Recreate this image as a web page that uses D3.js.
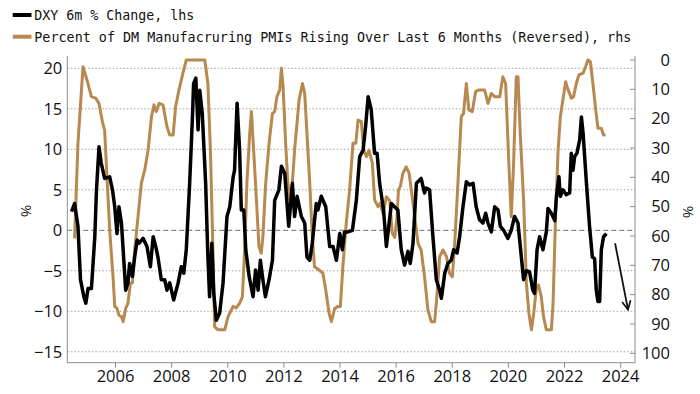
<!DOCTYPE html>
<html>
<head>
<meta charset="utf-8">
<script src="https://cdn.jsdelivr.net/npm/d3@7"></script>
<style>
  body { margin: 0; background: #fff; }
  svg { display: block; }
</style>
</head>
<body>
<div id="chart"></div>
<script>

// DXY 6m % change (lhs), decimal year / value
var dxyDates = [2004.45,2004.56,2004.68,2004.77,2004.89,2004.96,2005.04,2005.16,2005.28,2005.34,2005.43,2005.51,2005.63,2005.81,2005.91,2005.99,
  2006.07,2006.14,2006.23,2006.29,2006.38,2006.46,2006.52,2006.62,2006.70,2006.79,2006.86,2007.00,2007.14,2007.26,2007.36,2007.45,2007.53,2007.65,2007.77,2007.85,2007.95,
  2008.09,2008.25,2008.36,2008.45,2008.54,2008.66,2008.76,2008.80,2008.88,2008.96,2009.02,2009.11,2009.23,2009.31,2009.37,2009.45,2009.52,2009.61,2009.73,2009.85,2009.99,
  2010.09,2010.21,2010.26,2010.35,2010.44,2010.50,2010.59,2010.66,2010.78,2010.92,2011.01,2011.10,2011.18,2011.27,2011.36,2011.49,2011.61,2011.69,2011.84,2011.93,
  2012.05,2012.11,2012.19,2012.32,2012.40,2012.49,2012.64,2012.76,2012.84,2012.94,2013.03,2013.17,2013.23,2013.35,2013.51,2013.65,2013.77,2013.89,
  2014.01,2014.10,2014.18,2014.30,2014.46,2014.60,2014.72,2014.84,2014.93,2015.02,2015.13,2015.25,2015.34,2015.43,2015.57,2015.67,2015.85,2015.96,
  2016.08,2016.20,2016.32,2016.44,2016.52,2016.62,2016.74,2016.91,2017.03,2017.09,2017.21,2017.33,2017.45,2017.57,2017.63,2017.75,2017.86,2017.98,
  2018.07,2018.19,2018.28,2018.40,2018.52,2018.64,2018.76,2018.87,2018.99,2019.11,2019.21,2019.29,2019.41,2019.53,2019.65,2019.73,2019.85,
  2020.00,2020.12,2020.24,2020.36,2020.48,2020.56,2020.66,2020.77,2020.89,2020.95,2021.04,2021.13,2021.25,2021.37,2021.43,2021.55,2021.67,2021.73,2021.82,2021.87,2021.96,
  2022.08,2022.20,2022.26,2022.32,2022.38,2022.46,2022.56,2022.62,2022.68,2022.80,2022.91,2023.01,2023.09,2023.15,2023.21,2023.27,2023.33,2023.41,2023.51];
var dxyValues = [2.3,3.3,0.5,-6.1,-8.2,-9,-7.2,-7.2,-0.8,5,10.3,8.3,6.4,6.6,5,2.9,
  -0.4,2.9,0.9,-2.4,-7.4,-6.5,-4.1,-5.7,-3.3,-1.2,-1.6,-1,-2,-4.5,-0.8,-2,-3.3,-6.1,-6.1,-7.4,-6.5,
  -8.6,-6.5,-4.5,-5.3,-2.4,5.8,14,18.1,18.8,12.4,17.3,14.4,5.8,-3.3,-8.2,-1.6,-7.8,-11.1,-10.2,-6.5,1.7,
  2.9,6.6,7.4,15.7,9.9,2.5,2.5,-2.4,-5.7,-8.2,-4.9,-7.4,-3.7,-6.1,-8.2,-6.1,-3.7,3.7,5,7.9,
  7,4.2,0.5,5.8,1.7,4.2,1.7,0.9,-3.3,-3.7,-1.6,3.3,2.5,4.2,2.9,-2,-2,-3.7,
  -0.4,-2.4,-0.2,-0.2,0,3.7,9.1,9.9,12.8,16.5,14.9,9.5,9.5,5.8,2.5,-2,3.3,2.9,
  2.5,-2.4,-4.3,-2.6,-4.1,-1.6,5.8,6.4,4.6,5.2,5,-0.8,-6.1,-7.4,-8.4,-5.3,-4.1,-3.7,
  -2.4,-2.8,-0.8,2.9,6,5.6,5.8,2.9,1.3,0.9,2.1,0.9,-0.2,2.9,2.5,0.5,0,
  -1,0,1.7,0.9,-3.3,-6.1,-5,-5.1,-7.4,-7.8,-2.4,-0.8,-2.4,-0.2,2.7,2.1,1.2,4.2,6.6,4.2,5,
  4.4,4.6,9.5,7.4,9.1,9.5,11.2,14,12,5.8,0.5,-3.3,-3.5,-7.4,-8.8,-8.8,-2.4,-0.8,-0.4];

// % of DM manufacturing PMIs rising over last 6 months (rhs, reversed)
var pmiDates = [2004.56,2004.68,2004.86,2005.00,2005.16,2005.31,2005.43,2005.55,2005.63,2005.72,2005.81,2005.93,2005.99,
  2006.07,2006.14,2006.23,2006.29,2006.38,2006.46,2006.55,2006.62,2006.70,2006.82,2006.94,2007.06,2007.18,2007.30,2007.39,2007.47,2007.57,2007.71,2007.85,2007.95,
  2008.07,2008.16,2008.28,2008.42,2008.54,2009.20,2009.31,2009.40,2009.49,2009.55,2009.67,2009.91,
  2010.03,2010.21,2010.32,2010.44,2010.54,2010.62,2010.70,2010.80,2010.86,2010.94,2011.04,2011.13,2011.21,2011.27,2011.37,2011.49,2011.61,2011.69,2011.77,2011.87,2011.93,2011.99,
  2012.08,2012.16,2012.25,2012.32,2012.40,2012.56,2012.68,2012.76,2012.84,2012.94,2013.03,2013.11,2013.27,2013.41,2013.51,2013.63,2013.71,2013.83,2013.95,
  2014.03,2014.12,2014.24,2014.36,2014.48,2014.58,2014.66,2014.78,2014.86,2014.96,2015.05,2015.17,2015.25,2015.37,2015.45,2015.55,2015.67,2015.79,2015.88,2015.97,
  2016.05,2016.10,2016.17,2016.26,2016.38,2016.48,2016.56,2016.68,2016.80,2016.91,2017.03,2017.15,2017.27,2017.39,2017.47,2017.57,2017.69,2017.81,2017.92,
  2018.02,2018.10,2018.22,2018.34,2018.42,2018.52,2018.61,2018.73,2018.85,2018.97,2019.17,2019.29,2019.41,2019.53,2019.71,2019.82,2019.92,
  2020.04,2020.12,2020.20,2020.30,2020.36,2020.44,2020.56,2020.66,2020.75,2020.84,2020.92,2021.01,2021.09,2021.19,2021.27,2021.37,2021.55,2021.61,2021.70,2021.79,2021.87,2021.96,
  2022.06,2022.14,2022.26,2022.34,2022.44,2022.53,2022.68,2022.77,2022.85,2022.94,2023.03,2023.13,2023.21,2023.33,2023.41,2023.48];
var pmiValues = [60.8,28.4,2.3,6.8,12.5,13,14.8,21,23.9,40.9,58,73.9,84,
  84.7,87,87.5,89.2,84.7,83,76,76,64.8,53.4,42,37.5,30.7,19.3,15.3,17.6,14.8,15.3,22.7,25.6,
  25.6,15.9,10.2,4.5,0,0,8,30.7,64.8,90.9,92,92,
  87.5,84,84.5,83,80.7,64.8,42,25,17.6,30.7,47.7,63.6,65.9,60.2,42,28.4,18.2,17.6,12.5,10.2,2.8,9.1,
  28.4,42,48.9,42,30.7,13.6,8,11.4,25,42,60.2,70.5,71.6,72.7,78.4,86.4,89.2,84.7,84,
  84,70.5,55.7,44.3,28.4,28.4,20.5,21,30.7,33,30.7,35.2,47.7,50,48.9,52.3,46.6,48,59,60.5,
  53.4,44.3,43,38.6,36.4,38.6,44.3,53.4,62.5,64.8,73.9,85.2,89.2,89.2,80.7,67,64.8,67,72.7,
  73.9,63.6,42,19.3,18.2,8,17,17.6,10.8,10.2,10.2,14.8,11.4,12.5,12.5,5.7,8,
  36.4,53.4,36.4,5.7,5.7,25,47.7,76,86.4,92,86.4,78.4,76.7,80.7,87.5,92,92,83,53.4,30.7,19.3,13.6,
  7.4,10,13,12.5,8,5.1,4.5,2.3,0,0.6,8,17,23.3,23.3,25.6,25.6];

var yearTicks = [2006,2008,2010,2012,2014,2016,2018,2020,2022,2024];
var leftTicks = [20,15,10,5,0,-5,-10,-15];
var rightTicks = [0,10,20,30,40,50,60,70,80,90,100];
var legendLabels = ["DXY 6m % Change, lhs",
  "Percent of DM Manufacruring PMIs Rising Over Last 6 Months (Reversed), rhs"];

var width = 700, height = 394;
var plot = { left: 67.3, right: 635, top: 56, bottom: 362.7 };
var gold = "#b8894f";
var axisFont = "'Open Sans', 'Liberation Sans', sans-serif";

var svg = d3.select("#chart").append("svg")
  .attr("width", width)
  .attr("height", height);

var x = d3.scaleLinear().domain([2004.30, 2024.53]).range([plot.left, plot.right]);
var yL = d3.scaleLinear().domain([-16.35, 21.52]).range([plot.bottom, plot.top]);
var yR = d3.scaleLinear().domain([-1.36, 103.2]).range([plot.top, plot.bottom]);

// gridlines off the left axis
svg.append("g")
  .selectAll("line")
  .data(leftTicks)
  .enter().append("line")
  .attr("x1", plot.left).attr("x2", plot.right)
  .attr("y1", function(d) { return yL(d); })
  .attr("y2", function(d) { return yL(d); })
  .attr("stroke", function(d) { return d === 0 ? "#8a8a8a" : "#a0a0a0"; })
  .attr("stroke-width", function(d) { return d === 0 ? 1.3 : 1; })
  .attr("stroke-dasharray", function(d) { return d === 0 ? "5,3" : "1.5,2"; });

// axes
var axisColor = "#8c8c8c";

var xAxis = svg.append("g")
  .attr("transform", "translate(0," + plot.bottom + ")")
  .call(d3.axisBottom(x).tickValues(yearTicks).tickFormat(d3.format("d")).tickSize(5).tickPadding(3));
xAxis.select(".domain").remove();

var lAxis = svg.append("g")
  .attr("transform", "translate(" + plot.left + ",0)")
  .call(d3.axisLeft(yL).tickValues(leftTicks).tickSize(0).tickPadding(5));
lAxis.select(".domain").remove();

var rAxis = svg.append("g")
  .attr("transform", "translate(" + plot.right + ",0)")
  .call(d3.axisRight(yR).tickValues(rightTicks).tickSize(0).tickPadding(35));
rAxis.select(".domain").remove();
rAxis.selectAll("text").attr("text-anchor", "end");

// right-axis tick marks sit inside the plot
svg.append("g")
  .selectAll("line")
  .data(rightTicks)
  .enter().append("line")
  .attr("x1", plot.right - 5).attr("x2", plot.right)
  .attr("y1", function(d) { return yR(d); })
  .attr("y2", function(d) { return yR(d); })
  .attr("stroke", axisColor);

[xAxis, lAxis, rAxis].forEach(function(g) {
  g.selectAll("text")
    .attr("font-family", axisFont)
    .attr("font-size", 16.5)
    .attr("fill", "#111");
  g.selectAll(".tick line").attr("stroke", axisColor);
});

// frame: left, bottom, right
svg.append("path")
  .attr("d", "M" + plot.left + "," + plot.top + "V" + plot.bottom + "H" + plot.right + "V" + plot.top)
  .attr("fill", "none")
  .attr("stroke", axisColor)
  .attr("stroke-width", 1);

// % unit labels
svg.append("text")
  .attr("transform", "translate(21,211) rotate(90)")
  .attr("text-anchor", "middle")
  .attr("font-family", axisFont).attr("font-size", 15)
  .attr("fill", "#1a1a1a")
  .text("%");
svg.append("text")
  .attr("transform", "translate(683,212) rotate(90)")
  .attr("text-anchor", "middle")
  .attr("font-family", axisFont).attr("font-size", 15)
  .attr("fill", "#1a1a1a")
  .text("%");

// lines
var pmiLine = d3.line()
  .x(function(d, i) { return x(pmiDates[i]); })
  .y(function(d) { return yR(d); });
var dxyLine = d3.line()
  .x(function(d, i) { return x(dxyDates[i]); })
  .y(function(d) { return yL(d); });

svg.append("path")
  .datum(pmiValues)
  .attr("d", pmiLine)
  .attr("fill", "none")
  .attr("stroke", gold)
  .attr("stroke-width", 3)
  .attr("stroke-linejoin", "round");

svg.append("path")
  .datum(dxyValues)
  .attr("d", dxyLine)
  .attr("fill", "none")
  .attr("stroke", "#000")
  .attr("stroke-width", 3.5)
  .attr("stroke-linejoin", "round");

// arrow annotation
svg.append("defs").append("marker")
  .attr("id", "head")
  .attr("viewBox", "0 0 10 10")
  .attr("refX", 9).attr("refY", 5)
  .attr("markerWidth", 6).attr("markerHeight", 6)
  .attr("orient", "auto")
  .append("path")
  .attr("d", "M1,1L9,5L1,9")
  .attr("fill", "none")
  .attr("stroke", "#111")
  .attr("stroke-width", 1.6);

svg.append("line")
  .attr("x1", x(2023.82)).attr("y1", yL(-1.6))
  .attr("x2", x(2024.28)).attr("y2", yL(-9.8))
  .attr("stroke", "#111")
  .attr("stroke-width", 1.8)
  .attr("marker-end", "url(#head)");

// legend
var legend = svg.append("g");
var legendColors = ["#000", gold];
var legendWidths = [160, 597];
legendLabels.forEach(function(label, i) {
  var ly = 15 + i * 21.7;
  legend.append("line")
    .attr("x1", 12.7).attr("x2", 31.5)
    .attr("y1", ly).attr("y2", ly)
    .attr("stroke", legendColors[i])
    .attr("stroke-width", 4);
  legend.append("text")
    .attr("x", 34.3).attr("y", ly)
    .attr("dy", "0.36em")
    .attr("font-family", "'DejaVu Sans Mono', 'Liberation Mono', monospace")
    .attr("font-size", 14)
    .attr("textLength", legendWidths[i])
    .attr("lengthAdjust", "spacingAndGlyphs")
    .attr("fill", "#111")
    .text(label);
});

</script>
</body>
</html>
